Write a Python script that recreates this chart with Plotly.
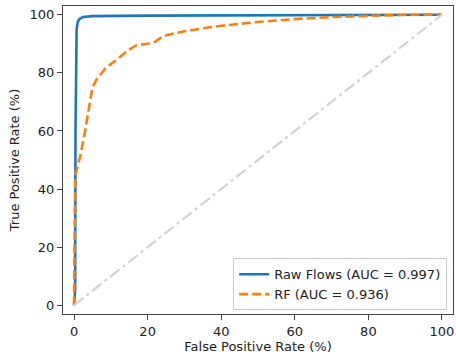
import plotly.graph_objects as go

raw_fpr = [0, 0.3, 0.4, 0.5, 0.7, 1.0, 1.5, 2.5, 5, 20, 40, 60, 100]
raw_tpr = [0, 5, 60, 90, 95, 97.5, 98.6, 99.2, 99.5, 99.7, 99.8, 99.9, 100]

rf_fpr = [0, 0.2, 0.3, 1.0, 1.8, 3.0, 4.0, 5.0, 6.0, 7.0, 8.5, 10, 12.5, 15, 17, 20, 22, 24, 27, 30, 35, 40, 50, 60, 70, 80, 90, 100]
rf_tpr = [0, 20, 44, 48, 52, 60, 67, 75, 77.5, 79, 81.5, 83, 85.5, 88, 89.5, 90, 90.7, 92.5, 93.5, 94.3, 95.3, 96.2, 97.5, 98.5, 99.2, 99.7, 100, 100]

diag = [0, 100]

labels = ["Raw Flows (AUC = 0.997)", "RF (AUC = 0.936)"]
ticks = [0, 20, 40, 60, 80, 100]

fig = go.Figure()
fig.add_trace(go.Scatter(x=raw_fpr, y=raw_tpr, mode="lines", name=labels[0],
                         line=dict(color="#1f77b4", width=2.6)))
fig.add_trace(go.Scatter(x=rf_fpr, y=rf_tpr, mode="lines", name=labels[1],
                         line=dict(color="#ff7f0e", width=2.6, dash="9px,4px")))
fig.add_trace(go.Scatter(x=diag, y=diag, mode="lines", showlegend=False,
                         line=dict(color="#d3d3d3", width=2.2, dash="12px,4px,3px,4px")))

axis_common = dict(range=[-3, 103], tickvals=ticks, showgrid=False, zeroline=False,
                   showline=True, linecolor="#444", linewidth=1.2, mirror=True,
                   ticks="outside", ticklen=5, tickcolor="#444", tickwidth=1.2,
                   tickfont=dict(size=13, color="#222"))

fig.update_xaxes(**axis_common, title=dict(text="False Positive Rate (%)", font=dict(size=13, color="#222"), standoff=4))
fig.update_yaxes(**axis_common, title=dict(text="True Positive Rate (%)", font=dict(size=13, color="#222"), standoff=6))

fig.update_layout(
    width=456, height=354,
    margin=dict(l=63, r=3, t=6, b=40),
    paper_bgcolor="white", plot_bgcolor="white",
    font=dict(family="DejaVu Sans", size=13, color="#222"),
    legend=dict(x=0.985, xanchor="right", y=0.012, yanchor="bottom",
                bgcolor="rgba(255,255,255,0.8)", bordercolor="#cccccc", borderwidth=1,
                font=dict(size=13), tracegroupgap=0),
)

fig.write_html("out.html", config={"displayModeBar": False},
               post_script="document.body.style.margin='0';document.body.style.padding='0';")
